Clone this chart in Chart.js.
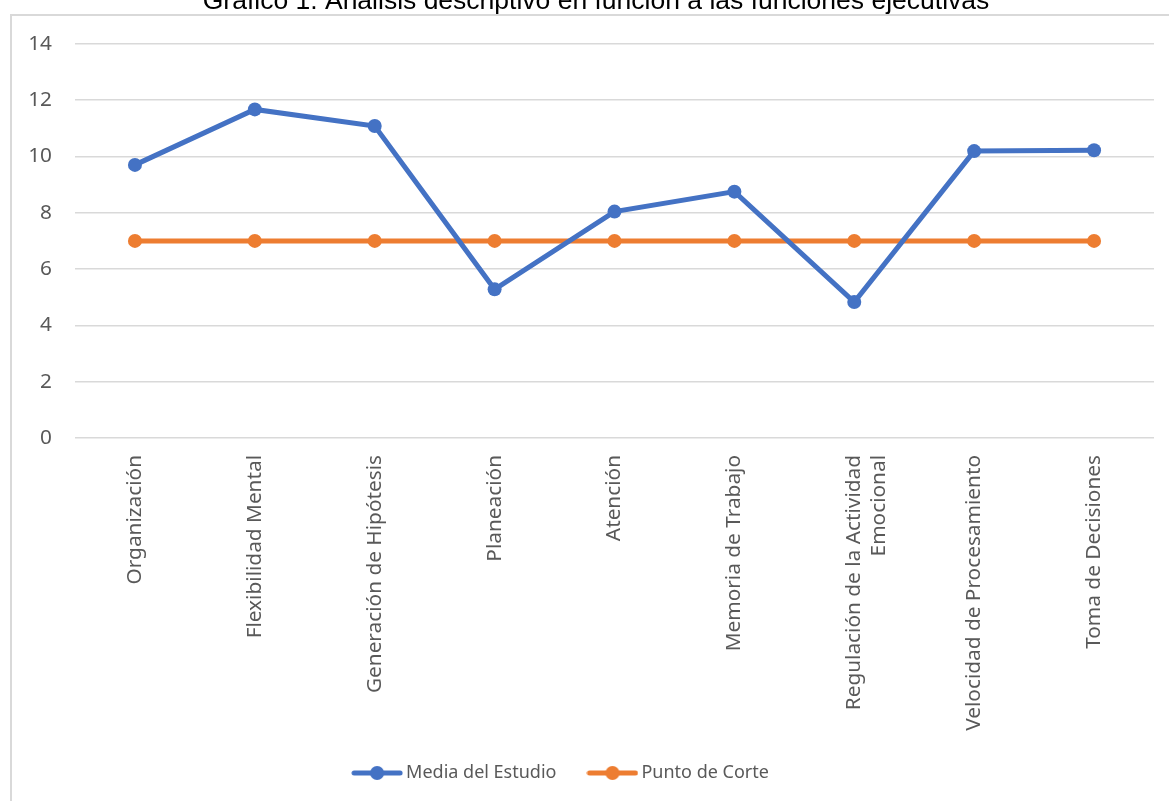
<!DOCTYPE html>
<html>
<head>
<meta charset="utf-8">
<script src="https://cdn.jsdelivr.net/npm/chart.js@4.4.0/dist/chart.umd.min.js"></script>
<style>
  html, body { margin: 0; padding: 0; background: #fff; overflow: hidden; }
  body { width: 1169px; height: 801px; position: relative; }
  #frame { position: absolute; left: 10px; top: 14px; width: 1200px; height: 820px;
           border-left: 2px solid #d9d9d9; border-top: 2px solid #d9d9d9; }
  #wrap { position: absolute; left: 0; top: -20px; width: 1169px; height: 812px; }
</style>
</head>
<body>
<div id="frame"></div>
<div id="wrap"><canvas id="chart"></canvas></div>
<script>
const categorias = ['Organización', 'Flexibilidad Mental', 'Generación de Hipótesis', 'Planeación',
    'Atención', 'Memoria de Trabajo', ['Regulación de la Actividad', 'Emocional'],
    'Velocidad de Procesamiento', 'Toma de Decisiones'];
const mediaEstudio = [9.7, 11.67, 11.08, 5.28, 8.04, 8.75, 4.83, 10.19, 10.22];
const puntoCorte = [7, 7, 7, 7, 7, 7, 7, 7, 7];
const yTicks = [0, 2, 4, 6, 8, 10, 12, 14];

const azul = '#4472C4';
const naranja = '#ED7D31';

// legend marker: line with a dot in the middle
function legendIcon(color) {
    const c = document.createElement('canvas');
    c.width = 52; c.height = 16;
    const g = c.getContext('2d');
    g.strokeStyle = color; g.lineWidth = 5; g.lineCap = 'round';
    g.beginPath(); g.moveTo(3, 8); g.lineTo(49, 8); g.stroke();
    g.fillStyle = color;
    g.beginPath(); g.arc(26, 8, 7, 0, Math.PI * 2); g.fill();
    return c;
}

// shift title / legend horizontally, let the x labels run past the axis box
const nudge = {
    id: 'nudge',
    afterLayout(chart) {
        if (chart.titleBlock) { chart.titleBlock.left += 19; chart.titleBlock.right += 19; }
        if (chart.legend) { chart.legend.left -= 14; chart.legend.right -= 14; }
        chart.scales.x.bottom += 40;
    }
};

const tickFont = { family: '"Noto Sans", sans-serif', size: 20.8 };

new Chart(document.getElementById('chart'), {
    type: 'line',
    data: {
        labels: categorias,
        datasets: [{
            label: 'Media del Estudio',
            data: mediaEstudio,
            borderColor: azul,
            backgroundColor: azul,
            borderWidth: 5,
            pointRadius: 7,
            pointHoverRadius: 7,
            pointBorderWidth: 0,
            tension: 0
        }, {
            label: 'Punto de Corte',
            data: puntoCorte,
            borderColor: naranja,
            backgroundColor: naranja,
            borderWidth: 5,
            pointRadius: 7,
            pointHoverRadius: 7,
            pointBorderWidth: 0,
            tension: 0
        }]
    },
    options: {
        responsive: true,
        maintainAspectRatio: false,
        animation: false,
        layout: { padding: { left: 0, right: 15, top: 0, bottom: 0 } },
        plugins: {
            tooltip: { enabled: false },
            title: {
                display: true,
                text: 'Gráfico 1. Análisis descriptivo en función a las funciones ejecutivas',
                color: '#000',
                font: { family: '"Liberation Sans", Arial, sans-serif', size: 26.5, weight: 'normal', lineHeight: 1.2 },
                padding: { top: 6, bottom: 26 }
            },
            legend: {
                position: 'bottom',
                labels: {
                    color: '#595959',
                    font: { family: '"Noto Sans", sans-serif', size: 18 },
                    usePointStyle: true,
                    pointStyleWidth: 40,
                    padding: 36,
                    generateLabels(chart) {
                        return chart.data.datasets.map((ds, i) => ({
                            text: ds.label,
                            fillStyle: ds.borderColor,
                            strokeStyle: ds.borderColor,
                            fontColor: '#595959',
                            lineWidth: 0,
                            pointStyle: legendIcon(ds.borderColor),
                            datasetIndex: i,
                            hidden: false
                        }));
                    }
                }
            }
        },
        scales: {
            x: {
                offset: true,
                grid: { display: false, drawTicks: false },
                border: { display: false },
                ticks: {
                    color: '#595959',
                    font: tickFont,
                    minRotation: 90,
                    maxRotation: 90,
                    padding: 17,
                    autoSkip: false
                },
                afterFit(scale) { scale.height = 290; }
            },
            y: {
                min: 0,
                max: 14,
                afterBuildTicks(scale) { scale.ticks = yTicks.map(v => ({ value: v })); },
                grid: { color: '#d9d9d9', lineWidth: 1.5, drawTicks: false },
                border: { display: false },
                ticks: { color: '#595959', font: tickFont, padding: 23 },
                afterFit(scale) { scale.width = 75; }
            }
        }
    },
    plugins: [nudge]
});
</script>
</body>
</html>
